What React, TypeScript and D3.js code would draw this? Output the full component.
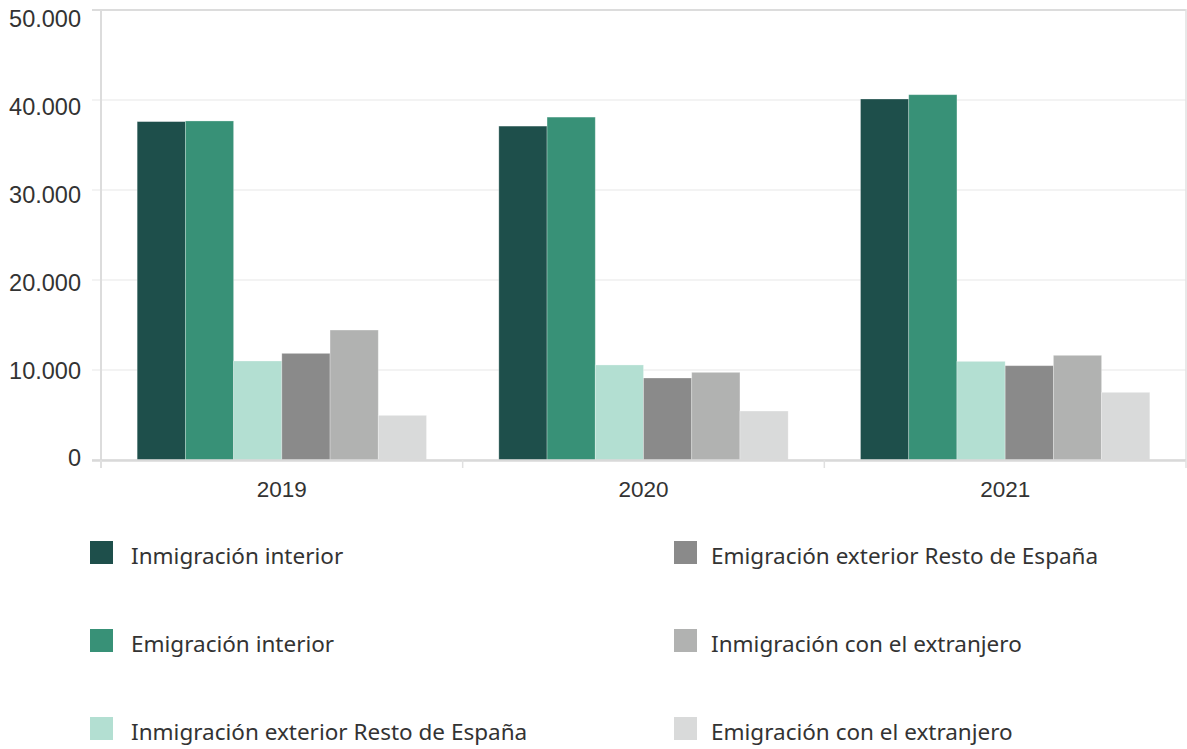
import React from "react";
import * as d3 from "d3";

const years = ["2019", "2020", "2021"];
const series = [
  "Inmigración interior",
  "Emigración interior",
  "Inmigración exterior Resto de España",
  "Emigración exterior Resto de España",
  "Inmigración con el extranjero",
  "Emigración con el extranjero",
];
const colors = ["#1e4f4b", "#389177", "#b3dfd2", "#8a8a8a", "#b1b2b1", "#d9dada"];
const values2019 = [37600, 37670, 11000, 11850, 14440, 4960];
const values2020 = [37100, 38100, 10560, 9110, 9740, 5440];
const values2021 = [40110, 40590, 10960, 10480, 11630, 7520];
const valuesByYear = [values2019, values2020, values2021];
const yTicks = [0, 10000, 20000, 30000, 40000, 50000];

const W = 1187;
const H = 749;
const left = 101;
const right = 1186;
const top = 10;
const bottom = 460;

export default function App() {
  const x0 = d3.scaleBand<string>().domain(years).range([left, right]).padding(0);
  const bw = x0.bandwidth();
  const x1 = d3.scaleBand<string>().domain(series).range([bw * 0.1, bw * 0.9]).padding(0);
  const y = d3.scaleLinear().domain([0, 50000]).range([bottom, top]);
  // tick labels sit on a slightly compressed scale in the reference
  const yLab = d3.scaleLinear().domain([0, 50000]).range([458, 18.5]);
  const fmt = (v: number) => d3.format(",")(v).replace(/,/g, ".");
  const axisFont = "'Liberation Sans', Arial, sans-serif";
  const legendFont = "'Noto Sans', sans-serif";

  return (
    <svg width={W} height={H} style={{ position: "absolute", left: 0, top: 0, background: "#fff" }}>
      {yTicks.map((t) => (
        <g key={t}>
          <line x1={92} x2={right} y1={y(t)} y2={y(t)} stroke={t === 50000 ? "#dcdcdc" : "#e8e8e8"} strokeWidth={t === 50000 ? 2 : 1.2} />
          <text x={81} y={yLab(t)} dy="0.36em" textAnchor="end" fontSize={23.5} fill="#333" fontFamily={axisFont}>{fmt(t)}</text>
        </g>
      ))}
      <line x1={left} x2={left} y1={top - 1} y2={bottom + 8} stroke="#dcdcdc" strokeWidth={2} />
      <line x1={right} x2={right} y1={top - 1} y2={bottom} stroke="#e0e0e0" strokeWidth={1.5} />
      {years.map((yr, i) => (
        <g key={yr} transform={`translate(${x0(yr)},0)`}>
          {series.map((s, j) => (
            <rect
              key={s}
              x={x1(s)}
              y={y(valuesByYear[i][j])}
              width={x1.bandwidth()}
              height={bottom - y(valuesByYear[i][j])}
              fill={colors[j]}
              stroke="#ffffff"
              strokeOpacity={0.35}
              strokeWidth={0.8}
            />
          ))}
          <text x={bw / 2} y={489} dy="0.36em" textAnchor="middle" fontSize={22.5} fill="#333" fontFamily={axisFont}>{yr}</text>
        </g>
      ))}
      <line x1={92} x2={right} y1={bottom + 0.5} y2={bottom + 0.5} stroke="#d9d9d9" strokeWidth={2.5} />
      {[...years.map((yr) => x0(yr) as number), right].map((tx, i) => (
        <line key={i} x1={tx} x2={tx} y1={bottom} y2={bottom + 8} stroke="#e0e0e0" strokeWidth={1.5} />
      ))}
      {series.map((s, j) => {
        const col = Math.floor(j / 3);
        const row = j % 3;
        const sx = col === 0 ? 90 : 674;
        const tx = col === 0 ? 131 : 711;
        const sy = 541 + row * 88;
        return (
          <g key={s}>
            <rect x={sx} y={sy} width={23} height={23} fill={colors[j]} />
            <text x={tx} y={sy + 23} fontSize={22.5} fill="#333" fontFamily={legendFont}>{s}</text>
          </g>
        );
      })}
    </svg>
  );
}
